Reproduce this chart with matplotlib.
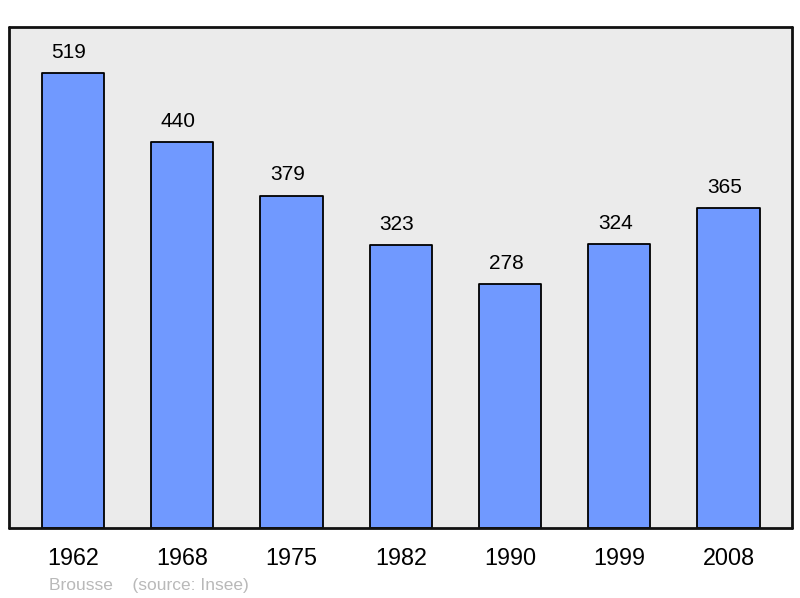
import matplotlib.pyplot as plt

years = ['1962', '1968', '1975', '1982', '1990', '1999', '2008']
population = [519, 440, 379, 323, 278, 324, 365]

plt.rcParams['font.family'] = ['Liberation Sans', 'DejaVu Sans']

fig = plt.figure(figsize=(8, 5.98), dpi=100)
ax = fig.add_axes([9 / 800, 70 / 598, 783 / 800, 501 / 598])
ax.set_facecolor('#ebebeb')

x = range(len(years))
bars = ax.bar(x, population, width=0.57, color='#7099ff', edgecolor='black',
              linewidth=1.3, joinstyle='round', zorder=2)

for xi, val in zip(x, population):
    ax.annotate(str(val), (xi, val), xytext=(-3, 11), textcoords='offset points',
                ha='center', va='baseline', fontsize=15)

ax.set_xlim(-0.585, 6.58)
ax.set_ylim(0, 571.5)
ax.set_xticks(list(x))
ax.set_xticklabels(years, fontsize=16.8)
ax.tick_params(axis='x', length=0, pad=14)
ax.set_yticks([])
for s in ax.spines.values():
    s.set_linewidth(2)
    s.set_color('#111111')
    s.set_capstyle('round')

fig.text(49 / 800, 1 - 590 / 598, 'Brousse    (source: Insee)', fontsize=12.5,
         color='#b9b9b9', ha='left', va='baseline')

fig.savefig('out.png', dpi=100)
